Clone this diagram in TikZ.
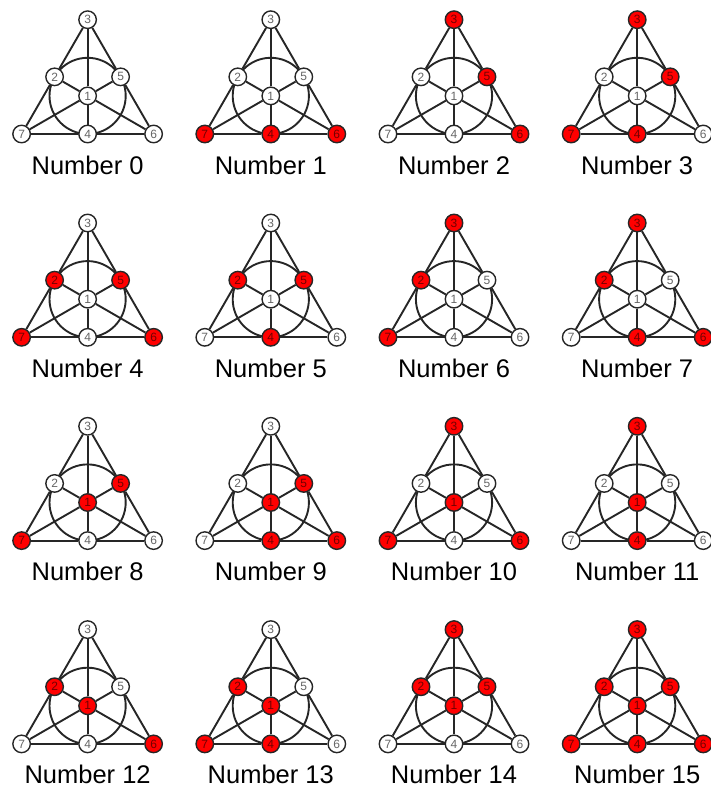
\documentclass[tikz,border=0pt]{standalone}
\usepackage{fontspec}
\setmainfont{Liberation Sans}
\begin{document}
\begin{tikzpicture}[x=1pt,y=-1pt,
 edge/.style={line width=1.9pt, draw=black!85},
 fanow/.style={circle, draw=black!85, line width=1.4pt, fill=white, minimum size=17.5pt, inner sep=0pt, font=\fontsize{12}{12}\selectfont, text=black!60},
 fanor/.style={fanow, fill=red, text=red!45!black},
 lab/.style={font=\fontsize{25.5}{26}\selectfont, anchor=base, inner sep=0pt}]
\useasboundingbox (0,0) rectangle (710,789);
\foreach \n/\pa/\pb/\pc/\pd/\pe/\pf/\pg in {
 0/w/w/w/w/w/w/w, 1/w/w/w/r/w/r/r, 2/w/w/r/w/r/r/w, 3/w/w/r/r/r/w/r,
 4/w/r/w/w/r/r/r, 5/w/r/w/r/r/w/w, 6/w/r/r/w/w/w/r, 7/w/r/r/r/w/r/w,
 8/r/w/w/w/r/w/r, 9/r/w/w/r/r/r/w, 10/r/w/r/w/w/r/r, 11/r/w/r/r/w/w/w,
 12/r/r/w/w/w/r/w, 13/r/r/w/r/w/w/r, 14/r/r/r/w/r/w/w, 15/r/r/r/r/r/r/r}{
  \pgfmathsetmacro\cx{87.6+183.2*mod(\n,4)}
  \pgfmathsetmacro\by{134+203.3*int(\n/4)}
  \begin{scope}[shift={(\cx,\by)}]
   \coordinate (c\n) at (0,-38.1);
   \draw[edge] (c\n) circle (38.1);
   \node[fano\pa] (p\n-1) at (0,-38.1) {1};
   \node[fano\pb] (p\n-2) at (-33,-57.15) {2};
   \node[fano\pc] (p\n-3) at (0,-114.3) {3};
   \node[fano\pd] (p\n-4) at (0,0) {4};
   \node[fano\pe] (p\n-5) at (33,-57.15) {5};
   \node[fano\pf] (p\n-6) at (66,0) {6};
   \node[fano\pg] (p\n-7) at (-66,0) {7};
   \draw[edge] (p\n-7) -- (p\n-2);
   \draw[edge] (p\n-2) -- (p\n-3);
   \draw[edge] (p\n-3) -- (p\n-5);
   \draw[edge] (p\n-5) -- (p\n-6);
   \draw[edge] (p\n-7) -- (p\n-4);
   \draw[edge] (p\n-4) -- (p\n-6);
   \draw[edge] (p\n-3) -- (p\n-1);
   \draw[edge] (p\n-1) -- (p\n-4);
   \draw[edge] (p\n-7) -- (p\n-1);
   \draw[edge] (p\n-1) -- (p\n-5);
   \draw[edge] (p\n-6) -- (p\n-1);
   \draw[edge] (p\n-1) -- (p\n-2);
   \node[lab] (l\n) at (0,40) {Number \n};
  \end{scope}
}
\end{tikzpicture}
\end{document}
